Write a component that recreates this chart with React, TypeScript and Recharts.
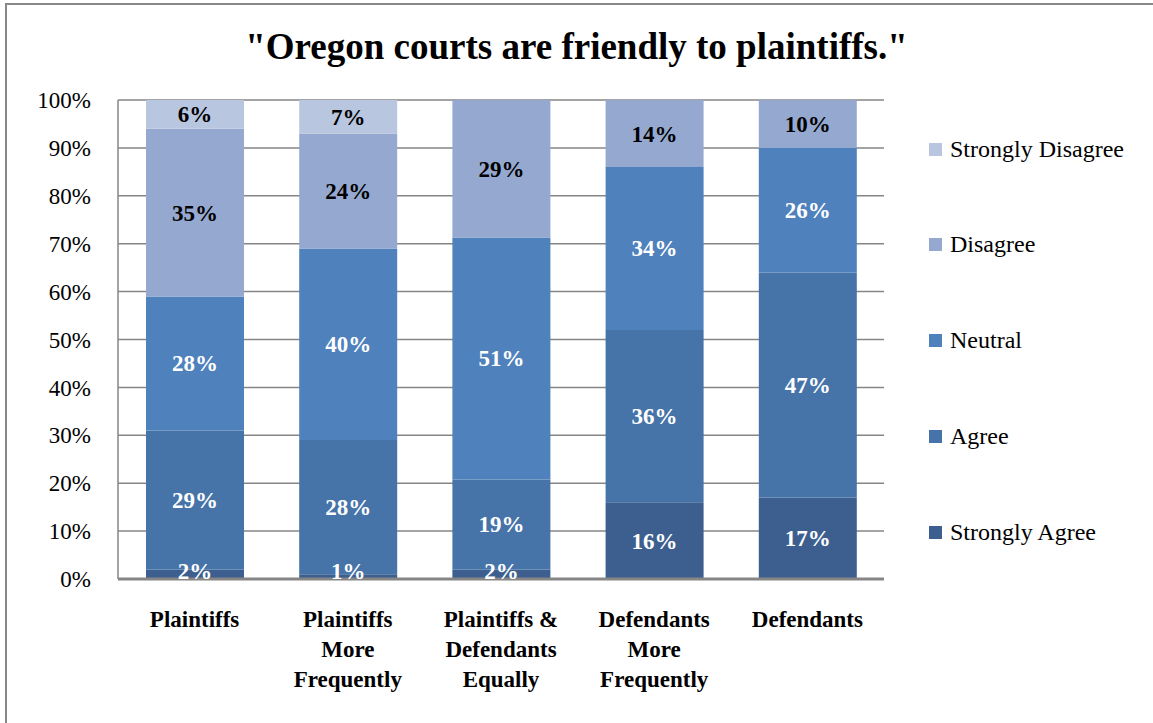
import React from 'react';
import { BarChart, Bar, XAxis, YAxis, CartesianGrid, LabelList } from 'recharts';

const categories = [
  'Plaintiffs',
  'Plaintiffs\nMore\nFrequently',
  'Plaintiffs &\nDefendants\nEqually',
  'Defendants\nMore\nFrequently',
  'Defendants',
];
const stronglyAgree = [2, 1, 2, 16, 17];
const agree = [29, 28, 19, 36, 47];
const neutral = [28, 40, 51, 34, 26];
const disagree = [35, 24, 29, 14, 10];
const stronglyDisagree = [6, 7, 0, 0, 0];
const yTicks = [0, 0.1, 0.2, 0.3, 0.4, 0.5, 0.6, 0.7, 0.8, 0.9, 1];

const series = [
  { key: 'sa', name: 'Strongly Agree', values: stronglyAgree, color: '#3C5F8F', label: '#FFFFFF' },
  { key: 'a', name: 'Agree', values: agree, color: '#4673A8', label: '#FFFFFF' },
  { key: 'n', name: 'Neutral', values: neutral, color: '#4F81BD', label: '#FFFFFF' },
  { key: 'd', name: 'Disagree', values: disagree, color: '#95A9D0', label: '#000000' },
  { key: 'sd', name: 'Strongly Disagree', values: stronglyDisagree, color: '#B9C6E0', label: '#000000' },
];

const data = categories.map((c, i) => {
  const row: any = { name: c };
  series.forEach((s) => (row[s.key] = s.values[i]));
  return row;
});

const FONT = 'Liberation Serif, DejaVu Serif, serif';

const XTick = (props: any) => {
  const { x, y, payload } = props;
  const lines = String(payload.value).split('\n');
  return (
    <text x={x} y={y + 48} textAnchor="middle" fontFamily={FONT} fontSize={23} fontWeight="bold" fill="#000">
      {lines.map((l, i) => (
        <tspan key={i} x={x} dy={i === 0 ? 0 : 30}>
          {l}
        </tspan>
      ))}
    </text>
  );
};

const BarLabel = (props: any) => {
  const { x, y, width, height, value, fill } = props;
  if (!value) return null;
  const cy = Math.min(y + height / 2, 571);
  return (
    <text
      x={x + width / 2}
      y={cy}
      dy={8}
      textAnchor="middle"
      fontFamily={FONT}
      fontSize={23}
      fontWeight="bold"
      fill={fill}
    >
      {`${value}%`}
    </text>
  );
};

const legendY = [532, 436, 340, 244, 149];

export default function App() {
  return (
    <div style={{ position: 'absolute', left: 0, top: 0, width: 1153, height: 723, background: '#fff', overflow: 'hidden' }}>
      <div
        style={{
          position: 'absolute',
          left: 5,
          top: 3,
          width: 1148,
          height: 720,
          borderLeft: '2px solid #888',
          borderTop: '2px solid #888',
          boxSizing: 'border-box',
        }}
      />
      <div
        style={{
          position: 'absolute',
          left: 0,
          top: 26,
          width: 1153,
          textAlign: 'center',
          fontFamily: FONT,
          fontWeight: 'bold',
          fontSize: 37,
          lineHeight: '42px',
          color: '#000',
        }}
      >
        "Oregon courts are friendly to plaintiffs."
      </div>
      <div style={{ position: 'absolute', left: 0, top: 0 }}>
        <BarChart
          width={1153}
          height={723}
          data={data}
          stackOffset="expand"
          margin={{ top: 100, left: 0, right: 269, bottom: 0 }}
          barSize={98}
        >
          <CartesianGrid vertical={false} stroke="#868686" strokeWidth={1.5} />
          <XAxis
            dataKey="name"
            height={144}
            tick={<XTick />}
            tickLine={false}
            tickSize={0}
            tickMargin={0}
            axisLine={{ stroke: '#868686', strokeWidth: 3 }}
            interval={0}
          />
          <YAxis
            width={118}
            domain={[0, 1]}
            ticks={yTicks}
            tickFormatter={(v: number) => `${Math.round(v * 100)}%`}
            tick={{ fontFamily: FONT, fontSize: 23, fill: '#000' }}
            tickLine={false}
            tickSize={0}
            tickMargin={27}
            axisLine={{ stroke: '#868686', strokeWidth: 1.5 }}
          />
          {series.map((s) => (
            <Bar key={s.key} dataKey={s.key} name={s.name} stackId="s" fill={s.color} isAnimationActive={false}>
              <LabelList dataKey={s.key} content={(p: any) => <BarLabel {...p} fill={s.label} />} />
            </Bar>
          ))}
        </BarChart>
      </div>
      {series.map((s, i) => (
        <div
          key={s.key}
          style={{
            position: 'absolute',
            left: 929,
            top: legendY[i] - 14,
            height: 28,
            display: 'flex',
            alignItems: 'center',
            fontFamily: FONT,
            fontSize: 24,
            color: '#000',
            whiteSpace: 'nowrap',
          }}
        >
          <span style={{ display: 'inline-block', width: 13, height: 13, background: s.color, marginRight: 8 }} />
          {s.name}
        </div>
      ))}
    </div>
  );
}
